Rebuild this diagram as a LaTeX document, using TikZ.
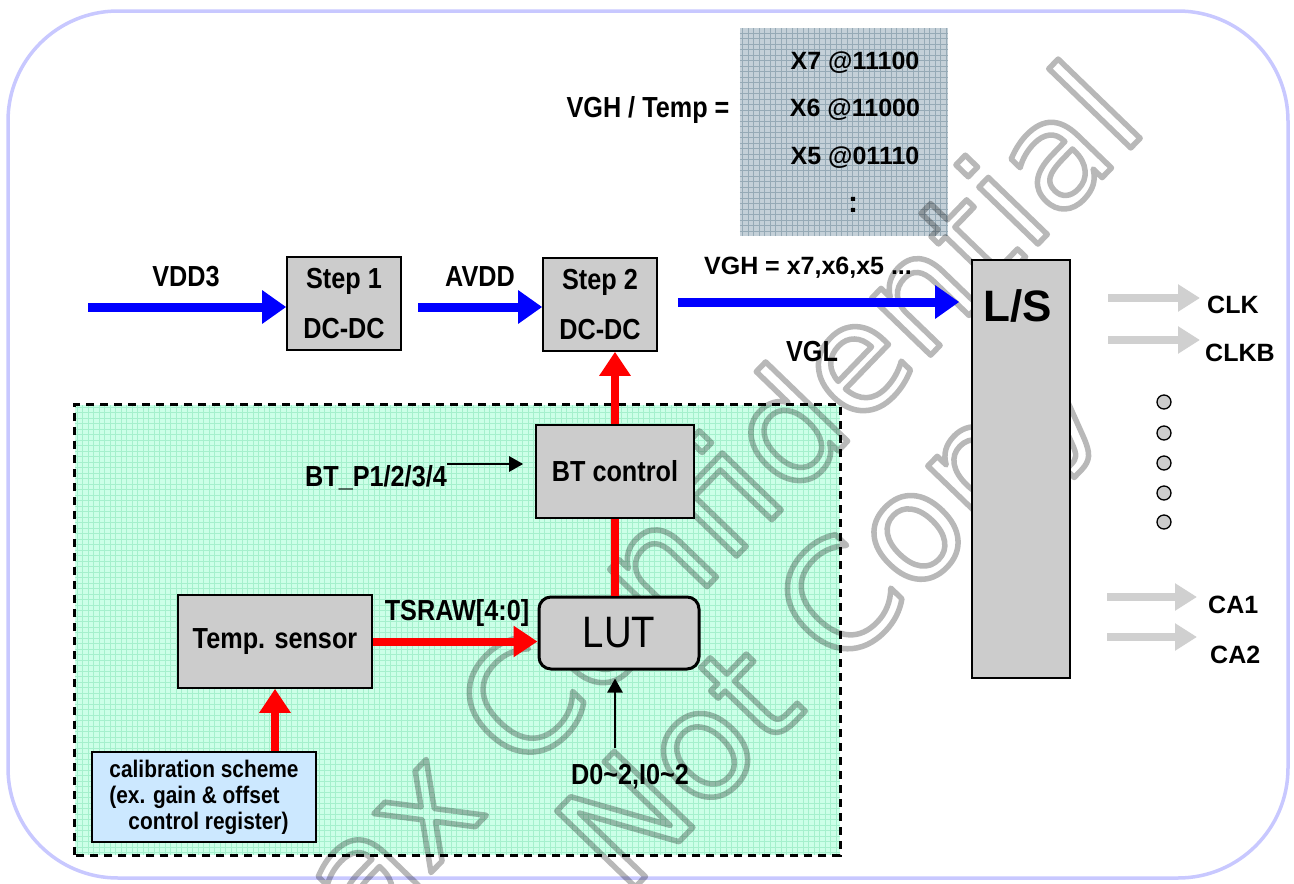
\documentclass[tikz,border=0pt]{standalone}
\usepackage{fontspec}
\setmainfont{Liberation Sans}
\newfontfamily\nrw[FakeStretch=0.87]{Liberation Sans}
\newfontfamily\wmf{DejaVu Sans}
\usetikzlibrary{arrows.meta}
\newcommand{\wmoutline}[1]{\special{pdf:code 1 Tr 5.5 w 1 j}#1\special{pdf:code 0 Tr}}
\definecolor{framec}{RGB}{200,200,255}
\definecolor{boxgray}{RGB}{204,204,204}
\definecolor{greenf}{RGB}{204,255,232}
\definecolor{greeng}{RGB}{165,240,205}
\definecolor{tablef}{RGB}{196,208,216}
\definecolor{tableg}{RGB}{150,170,182}
\definecolor{calf}{RGB}{204,232,255}
\definecolor{arrblue}{RGB}{0,0,255}
\definecolor{arrred}{RGB}{255,0,0}
\definecolor{arrgray}{RGB}{208,208,208}
\tikzset{
  box/.style={draw=black, line width=1.6pt, fill=boxgray, inner sep=0pt},
  lbl/.style={font=\nrw\bfseries\fontsize{29}{33}\selectfont, inner sep=0pt},
  wlbl/.style={font=\bfseries\fontsize{25}{29}\selectfont, inner sep=0pt},
  fatblue/.style={draw=arrblue, line width=9pt, -{Triangle[length=24pt,width=32pt]}},
  fatred/.style={draw=arrred, line width=8pt, -{Triangle[length=24pt,width=30pt]}},
  redline/.style={draw=arrred, line width=8pt},
  fatgray/.style={draw=arrgray, line width=8pt, -{Triangle[length=22pt,width=26pt]}},
  blk/.style={draw=black, line width=2.5pt, -{Triangle[length=14pt,width=15pt]}},
  dotc/.style={circle, draw=black, line width=1.3pt, fill=boxgray, minimum size=14pt, inner sep=0pt},
  wmark/.style={rotate=46, inner sep=0pt, font=\wmf\fontsize{150}{150}\selectfont}
}
\begin{document}
\begin{tikzpicture}[x=1pt,y=-1pt]
\useasboundingbox (0,0) rectangle (1294,884);
% outer frame
\draw[framec, line width=3.5pt, rounded corners=110pt] (8,11) rectangle (1288,878);
% green region
\node[fill=greenf, minimum width=765pt, minimum height=450pt, inner sep=0pt] (grn) at (457.5,630) {};
\begin{scope}
  \clip (grn.south west) rectangle (grn.north east);
  \draw[greeng, line width=0.6pt, step=5.5pt] (grn.south west) grid (grn.north east);
\end{scope}
% table box
\node[fill=tablef, minimum width=208pt, minimum height=208pt, inner sep=0pt] (tbl) at (844,132) {};
\begin{scope}
  \clip (tbl.south west) rectangle (tbl.north east);
  \draw[tableg, line width=0.7pt, step=5.5pt] (tbl.south west) grid (tbl.north east);
\end{scope}
% watermark
\begin{scope}[opacity=0.28]
  \clip (0,0) rectangle (1294,884);
  \node[wmark, anchor=base east] (wm1) at (1150,128) {\wmoutline{ax Confidential}};
  \node[wmark, anchor=base west] (wm2) at (448,1081) {\wmoutline{Do Not Copy}};
\end{scope}
\draw[black, line width=2.8pt, dash pattern=on 8pt off 6pt] (grn.south west) rectangle (grn.north east);

% table texts
\node[lbl] (vghtemp) at (648,110) {VGH / Temp =};
\node[wlbl] (x7) at (855,63) {X7 @11100};
\node[wlbl] (x6) at (855,110) {X6 @11000};
\node[wlbl] (x5) at (855,158) {X5 @01110};
\node[wlbl, font=\bfseries\fontsize{30}{30}\selectfont] (vd) at (853,205) {:};

% top chain
\node[box, minimum width=114pt, minimum height=93pt, align=center, font=\nrw\bfseries\fontsize{29}{50}\selectfont] (step1) at (344,303.5) {Step 1\\DC-DC};
\node[box, minimum width=114pt, minimum height=93pt, align=center, font=\nrw\bfseries\fontsize{29}{50}\selectfont] (step2) at (600,304.5) {Step 2\\DC-DC};
\node[box, minimum width=98pt, minimum height=418pt] (ls) at (1021,469) {};
\node[wlbl, font=\bfseries\fontsize{44}{48}\selectfont] (lstext) at (1018,306) {L/S};

\node[lbl] (vdd3) at (186,277) {VDD3};
\node[lbl] (avdd) at (480,277) {AVDD};
\node[wlbl] (vghl) at (808,268) {VGH = x7,x6,x5 ...};
\node[lbl] (vgl) at (812,352) {VGL};

\coordinate (vin) at (88,307);
\coordinate (ain) at (418,307);
\draw[fatblue] (vin) -- (vin -| step1.west);
\draw[fatblue] (ain) -- (ain -| step2.west);
\draw[fatblue, shorten <=20pt, shorten >=12pt] (step2.east |- 0,302) -- (ls.west |- 0,302);

% outputs
\node[wlbl, anchor=west] (clk) at (1207,305) {CLK};
\node[wlbl, anchor=west] (clkb) at (1205,353) {CLKB};
\node[wlbl, anchor=west] (ca1) at (1208,605) {CA1};
\node[wlbl, anchor=west] (ca2) at (1210,655) {CA2};
\coordinate (o1) at (1108,298); \coordinate (o1e) at (1200,298);
\coordinate (o2) at (1108,340); \coordinate (o2e) at (1200,340);
\coordinate (o3) at (1107,597); \coordinate (o3e) at (1197,597);
\coordinate (o4) at (1107,637); \coordinate (o4e) at (1197,637);
\draw[fatgray] (o1) -- (o1e);
\draw[fatgray] (o2) -- (o2e);
\draw[fatgray] (o3) -- (o3e);
\draw[fatgray] (o4) -- (o4e);
\node[dotc] (d1) at (1164,402) {};
\node[dotc] (d2) at (1164,433) {};
\node[dotc] (d3) at (1164,463) {};
\node[dotc] (d4) at (1164,493) {};
\node[dotc] (d5) at (1164,522) {};

% inner blocks
\node[box, minimum width=158pt, minimum height=93pt, lbl] (bt) at (615,471.5) {BT control};
\node[box, minimum width=160pt, minimum height=72pt, rounded corners=12pt, line width=3pt,
      font=\nrw\fontsize{44}{48}\selectfont] (lut) at (619,633) {LUT};
\node[box, minimum width=194pt, minimum height=93pt, lbl] (ts) at (275,641.5) {Temp. sensor};
\node[box, fill=calf, minimum width=224pt, minimum height=90pt, align=left,
      font=\nrw\bfseries\fontsize{24}{26}\selectfont] (cal) at (204,797)
      {calibration scheme\\(ex. gain \& offset\\\hspace*{19pt}control register)};

\node[lbl] (btp) at (376,478) {BT\_P1/2/3/4};
\node[lbl] (tsraw) at (457,613) {TSRAW[4:0]};
\node[lbl] (d0) at (630,777) {D0\textasciitilde2,I0\textasciitilde2};

\draw[fatred] (bt.north) -- (step2.south -| bt.north);
\draw[redline] (bt.south) -- (bt.south |- lut.north);
\draw[fatred] (ts.east) -- (ts.east -| lut.west);
\draw[fatred] (ts.south |- cal.north) -- (ts.south);
\draw[blk, shorten >=12pt] (btp.east |- 0,464) -- (bt.west |- 0,464);
\draw[blk, shorten <=16pt, shorten >=8pt] (bt.south |- d0.north) -- (bt.south |- lut.south);
\end{tikzpicture}
\end{document}
